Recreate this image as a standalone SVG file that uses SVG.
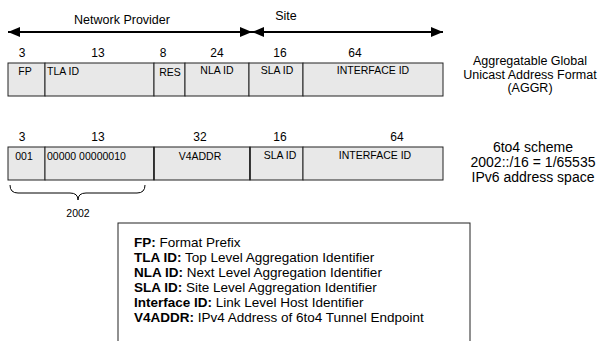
<svg xmlns="http://www.w3.org/2000/svg" width="600" height="341" viewBox="0 0 600 341">
  <defs>
    <marker id="ah" viewBox="0 0 12 10" refX="12" refY="5" markerWidth="12" markerHeight="10" markerUnits="userSpaceOnUse" orient="auto-start-reverse">
      <path d="M0,0 L12,5 L0,10 z" fill="#000"/>
    </marker>
    <style>
      text { font-family: "Liberation Sans", Arial, sans-serif; fill: #000; }
      .fld { fill: #e8e8e8; stroke: #222; stroke-width: 1; }
      .num { font-size: 12px; text-anchor: middle; }
      .lbl { font-size: 10.5px; }
      .mid { text-anchor: middle; }
      .cap { font-size: 12.5px; text-anchor: middle; }
      .cap2 { font-size: 14px; text-anchor: middle; }
      .leg { font-size: 13.5px; }
      .b { font-weight: bold; }
      .span { stroke: #000; stroke-width: 2; fill: none; }
    </style>
  </defs>
  <rect width="600" height="341" fill="#fff"/>

  <!-- span arrows and the 2002 brace -->
  <g id="connectors">
    <line class="span" x1="8" y1="32" x2="252" y2="32" marker-start="url(#ah)" marker-end="url(#ah)"/>
    <line class="span" x1="252" y1="32" x2="443" y2="32" marker-start="url(#ah)" marker-end="url(#ah)"/>
    <path d="M10,185 Q10,193 18,193 L70,193 Q78,193 78,200 Q78,193 86,193 L137,193 Q145,193 145,185" fill="none" stroke="#000" stroke-width="1"/>
  </g>
  <text x="122" y="24" font-size="12.5" text-anchor="middle">Network Provider</text>
  <text x="286" y="20" font-size="12.5" text-anchor="middle">Site</text>

  <!-- AGGR format -->
  <g id="aggr">
    <text class="num" x="22" y="57">3</text>
    <text class="num" x="98" y="57">13</text>
    <text class="num" x="163" y="57">8</text>
    <text class="num" x="217" y="57">24</text>
    <text class="num" x="280" y="57">16</text>
    <text class="num" x="355" y="57">64</text>
    <rect class="fld" x="8" y="63" width="37" height="33"/>
    <rect class="fld" x="45" y="63" width="109" height="33"/>
    <rect class="fld" x="154" y="63" width="31" height="33"/>
    <rect class="fld" x="185" y="63" width="64" height="33"/>
    <rect class="fld" x="249" y="63" width="54" height="33"/>
    <rect class="fld" x="303" y="63" width="140" height="33"/>
    <text class="lbl mid" x="25" y="75">FP</text>
    <text class="lbl" x="47" y="75">TLA ID</text>
    <text class="lbl mid" x="170" y="76">RES</text>
    <text class="lbl mid" x="217" y="74">NLA ID</text>
    <text class="lbl mid" x="277" y="74">SLA ID</text>
    <text class="lbl mid" x="373" y="74">INTERFACE ID</text>
    <text class="cap" x="530" y="65">Aggregatable Global</text>
    <text class="cap" x="530" y="79">Unicast Address Format</text>
    <text class="cap" x="530" y="92">(AGGR)</text>
  </g>

  <!-- 6to4 format -->
  <g id="sixtofour">
    <text class="num" x="22" y="141">3</text>
    <text class="num" x="98" y="141">13</text>
    <text class="num" x="200" y="141">32</text>
    <text class="num" x="280" y="141">16</text>
    <text class="num" x="397" y="141">64</text>
    <rect class="fld" x="8" y="147" width="37" height="33"/>
    <rect class="fld" x="45" y="147" width="109" height="33"/>
    <rect class="fld" x="154" y="147" width="96" height="33"/>
    <rect class="fld" x="250" y="147" width="53" height="33"/>
    <rect class="fld" x="303" y="147" width="140" height="33"/>
    <line x1="154" y1="147" x2="154" y2="180" stroke="#222" stroke-width="1.5"/>
    <line x1="250" y1="147" x2="250" y2="180" stroke="#222" stroke-width="1.5"/>
    <text class="lbl mid" x="24" y="160">001</text>
    <text class="lbl" x="47" y="160">00000 00000010</text>
    <text class="lbl mid" x="200" y="160">V4ADDR</text>
    <text class="lbl mid" x="280" y="159">SLA ID</text>
    <text class="lbl mid" x="375" y="159">INTERFACE ID</text>
    <text x="78" y="217" font-size="10.5" text-anchor="middle">2002</text>
    <text class="cap2" x="533" y="152">6to4 scheme</text>
    <text class="cap2" x="533" y="167">2002::/16 = 1/65535</text>
    <text class="cap2" x="533" y="182">IPv6 address space</text>
  </g>

  <!-- legend -->
  <g id="legend">
    <rect x="118" y="223" width="352" height="130" fill="#fff" stroke="#222" stroke-width="1"/>
    <text class="leg" x="134" y="247"><tspan class="b">FP:</tspan> Format Prefix</text>
    <text class="leg" x="134" y="262"><tspan class="b">TLA ID:</tspan> Top Level Aggregation Identifier</text>
    <text class="leg" x="134" y="277"><tspan class="b">NLA ID:</tspan> Next Level Aggregation Identifier</text>
    <text class="leg" x="134" y="292"><tspan class="b">SLA ID:</tspan> Site Level Aggregation Identifier</text>
    <text class="leg" x="134" y="307"><tspan class="b">Interface ID:</tspan> Link Level Host Identifier</text>
    <text class="leg" x="134" y="322"><tspan class="b">V4ADDR:</tspan> IPv4 Address of 6to4 Tunnel Endpoint</text>
  </g>
</svg>
